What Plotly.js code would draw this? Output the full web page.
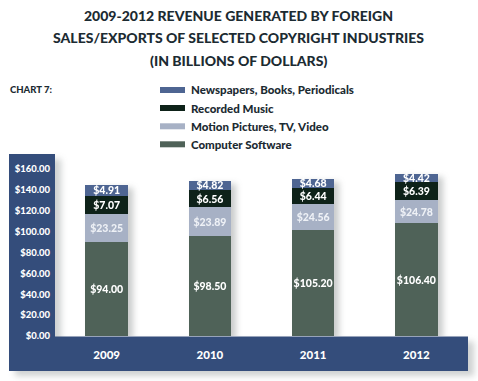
<!DOCTYPE html>
<html>
<head>
<meta charset="utf-8">
<script src="https://cdn.plot.ly/plotly-3.0.1.min.js"></script>
<style>
html,body{margin:0;padding:0;background:#fff;}
#chart{width:478px;height:381px;}
#chart .barlayer{filter: drop-shadow(5px 3px 3px rgba(60,70,70,0.28));}
#chart .layer-below .shapelayer{filter: drop-shadow(6px 5px 3px rgba(60,70,70,0.25));}
</style>
</head>
<body>
<div id="chart"></div>
<script>
// Categories
const years = ['2009', '2010', '2011', '2012'];
// Series names (legend order top to bottom)
const seriesNames = ['Newspapers, Books, Periodicals', 'Recorded Music', 'Motion Pictures, TV, Video', 'Computer Software'];
// Printed values (labels on the bars)
const softwareLabel = [94.00, 98.50, 105.20, 106.40];
const motionLabel = [23.25, 23.89, 24.56, 24.78];
const musicLabel = [7.07, 6.56, 6.44, 6.39];
const newsLabel = [4.91, 4.82, 4.68, 4.42];
// Segment heights as drawn in the picture
const softwareDrawn = [89.7, 95.8, 101.5, 108.0];
const motionDrawn = [27.5, 27.5, 24.9, 22.3];
const musicDrawn = [17.2, 16.5, 15.4, 17.5];
const newsDrawn = [10.2, 9.0, 8.9, 7.7];
// Y tick values
const yTicks = [0, 20, 40, 60, 80, 100, 120, 140, 160];

const colors = {
  news: '#4e6592',
  music: '#0e2219',
  motion: '#a7b1c5',
  software: '#4f6258',
  frame: '#344d7b',
  text: '#1c2b32'
};
const fam = 'Lato, "Open Sans", sans-serif';
const fmt = v => '$' + v.toFixed(2);

function barTrace(name, drawn, labels, color, txtColor) {
  return {
    type: 'bar', name: name, x: years, y: drawn,
    text: labels.map(fmt), textposition: 'inside', insidetextanchor: 'middle',
    textangle: 0, constraintext: 'none',
    textfont: {family: fam, size: 10.5, color: txtColor, weight: 900},
    marker: {color: color, line: {width: 0}},
    hoverinfo: 'skip', showlegend: false
  };
}

const data = [
  barTrace(seriesNames[3], softwareDrawn, softwareLabel, colors.software, '#ffffff'),
  barTrace(seriesNames[2], motionDrawn, motionLabel, colors.motion, '#eef1f6'),
  barTrace(seriesNames[1], musicDrawn, musicLabel, colors.music, '#ffffff'),
  barTrace(seriesNames[0], newsDrawn, newsLabel, colors.news, '#ffffff')
];

// pixel helpers for paper coordinates
const L = 55, R = 468, T = 154, B = 336;
const px = x => (x - L) / (R - L);
const py = y => (B - y) / (B - T);

const shapes = [
  {type: 'path', xref: 'paper', yref: 'paper',
   path: 'M' + px(9) + ',' + py(154) + ' L' + px(55) + ',' + py(154) + ' L' + px(55) + ',' + py(336.5) + ' L' + px(468) + ',' + py(336.5) + ' L' + px(468) + ',' + py(371) + ' L' + px(9) + ',' + py(371) + ' Z',
   fillcolor: colors.frame, line: {width: 0}, layer: 'below'}
];
const legendColors = [colors.news, colors.music, colors.motion, colors.software];
const legendY = [90, 108, 126.3, 144.3];
const annotations = [];
seriesNames.forEach((n, i) => {
  shapes.push({type: 'rect', xref: 'paper', yref: 'paper', x0: px(160), x1: px(185), y0: py(legendY[i] + 3), y1: py(legendY[i] - 3), fillcolor: legendColors[i], line: {width: 0}, layer: 'above'});
  annotations.push({xref: 'paper', yref: 'paper', x: px(189), y: py(legendY[i]), xanchor: 'left', yanchor: 'middle', showarrow: false, text: n, font: {family: fam, size: 11.5, color: colors.text, weight: 900}});
});
const titleLines = ['2009-2012 REVENUE GENERATED BY FOREIGN', 'SALES/EXPORTS OF SELECTED COPYRIGHT INDUSTRIES', '(IN BILLIONS OF DOLLARS)'];
const titleY = [15, 37.5, 60];
titleLines.forEach((t, i) => {
  annotations.push({xref: 'paper', yref: 'paper', x: px(238.5), y: py(titleY[i]), xanchor: 'center', yanchor: 'middle', showarrow: false, text: t, font: {family: fam, size: 14, color: colors.text, weight: 900}});
});
annotations.push({xref: 'paper', yref: 'paper', x: px(8), y: py(90), xanchor: 'left', yanchor: 'middle', showarrow: false, text: 'CHART 7:', font: {family: fam, size: 9.5, color: colors.text, weight: 900}});

const layout = {
  width: 478, height: 381,
  margin: {l: L, r: 478 - R, t: T, b: 381 - B, pad: 0},
  paper_bgcolor: '#ffffff', plot_bgcolor: 'rgba(0,0,0,0)',
  barmode: 'stack', bargap: 0.59,
  showlegend: false,
  uniformtext: {mode: 'show', minsize: 10.5},
  xaxis: {type: 'category', showgrid: false, zeroline: false, showline: false, ticks: '',
    tickfont: {family: fam, size: 11.5, color: '#ffffff', weight: 900}, ticklabelstandoff: 10, fixedrange: true},
  yaxis: {range: [0, (B - T) / 1.044], tickvals: yTicks, ticktext: yTicks.map(fmt),
    showgrid: false, zeroline: false, showline: false, ticks: '',
    tickfont: {family: fam, size: 9.5, color: '#ffffff', weight: 900}, ticklabelstandoff: 4, fixedrange: true},
  shapes: shapes,
  annotations: annotations
};

Plotly.newPlot('chart', data, layout, {displayModeBar: false, staticPlot: true});
</script>
</body>
</html>
